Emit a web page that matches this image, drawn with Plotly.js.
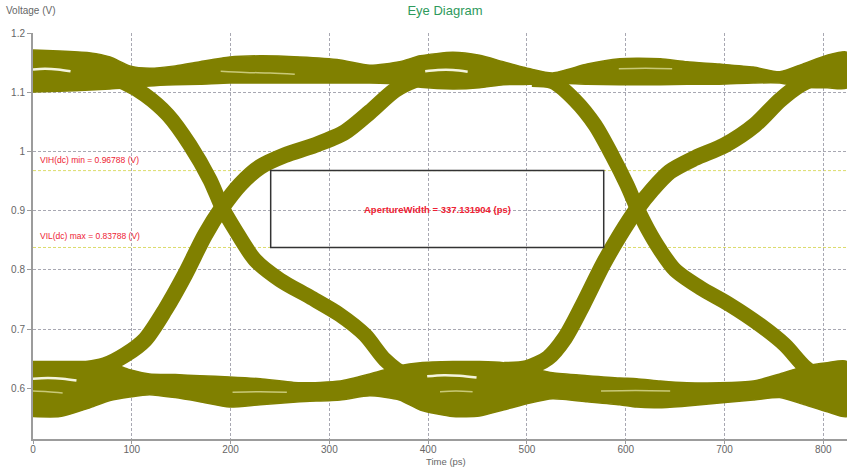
<!DOCTYPE html>
<html><head><meta charset="utf-8">
<script src="https://cdn.plot.ly/plotly-3.0.1.min.js"></script>
<style>html,body{margin:0;padding:0;background:#fff}#chart{width:847px;height:467px}</style>
</head><body><div id="chart"></div>
<script>
// ---- measurement values ----
const VIH = 0.96788;
const VIL = 0.83788;
const apertureStart = 240.6;
const apertureWidth = 337.131904;

// ---- ticks ----
const xTicks = [0, 100, 200, 300, 400, 500, 600, 700, 800];
const yTicks = [0.6, 0.7, 0.8, 0.9, 1.0, 1.1, 1.2];

// ---- rails (upper / lower envelopes of the bundles of traces) ----
const railX = [0, 27, 58, 78, 98, 118, 144, 169, 199, 230, 270, 311, 341, 371, 392, 425, 452, 476, 503, 526, 561, 594, 611, 635, 662, 695, 729, 756, 779, 804, 824];
const highRailUpper = [1.172, 1.170, 1.167, 1.160, 1.145, 1.141, 1.145, 1.152, 1.160, 1.162, 1.160, 1.155, 1.146, 1.152, 1.162, 1.168, 1.163, 1.152, 1.140, 1.133, 1.148, 1.157, 1.158, 1.157, 1.152, 1.148, 1.143, 1.135, 1.148, 1.163, 1.168];
const highRailLower = [1.101, 1.102, 1.104, 1.106, 1.108, 1.111, 1.113, 1.114, 1.116, 1.116, 1.116, 1.116, 1.116, 1.114, 1.109, 1.106, 1.108, 1.113, 1.114, 1.116, 1.114, 1.113, 1.113, 1.113, 1.114, 1.114, 1.116, 1.116, 1.109, 1.108, 1.108];
const lowRailUpper = [0.645, 0.645, 0.645, 0.643, 0.631, 0.624, 0.623, 0.621, 0.619, 0.616, 0.609, 0.612, 0.624, 0.638, 0.643, 0.645, 0.645, 0.643, 0.634, 0.626, 0.621, 0.617, 0.616, 0.612, 0.609, 0.609, 0.612, 0.624, 0.636, 0.643, 0.645];
const lowRailLower = [0.552, 0.552, 0.567, 0.579, 0.585, 0.589, 0.584, 0.577, 0.568, 0.572, 0.577, 0.580, 0.587, 0.580, 0.563, 0.552, 0.553, 0.563, 0.575, 0.582, 0.577, 0.572, 0.568, 0.567, 0.570, 0.575, 0.580, 0.584, 0.573, 0.560, 0.552];

// ---- transitions (centre of each bundle) ----
const rise1X = [47.6, 72.9, 93.1, 113.4, 133.6, 153.9, 174.1, 191.3, 209.5, 229.8, 255.1, 285.4, 315.8, 341.1, 366.4, 386.7, 401.8];
const rise1Y = [0.631, 0.639, 0.656, 0.682, 0.732, 0.792, 0.859, 0.905, 0.944, 0.974, 0.994, 1.011, 1.033, 1.067, 1.104, 1.121, 1.128];
const fall1X = [77.9, 93.1, 113.4, 136.6, 158.9, 179.2, 191.3, 204.5, 224.7, 250.0, 280.4, 310.7, 336.1, 356.3, 376.5, 391.7];
const fall1Y = [1.124, 1.116, 1.096, 1.062, 1.011, 0.952, 0.906, 0.868, 0.817, 0.783, 0.754, 0.724, 0.690, 0.648, 0.623, 0.617];
const rise2X = [477.0, 500.0, 521.3, 538.5, 556.7, 577.0, 594.2, 611.4, 626.6, 644.8, 670.1, 700.4, 730.8, 756.1, 776.4, 791.6, 811.8];
const rise2Y = [0.631, 0.634, 0.651, 0.685, 0.741, 0.809, 0.859, 0.903, 0.935, 0.966, 0.989, 1.011, 1.045, 1.087, 1.113, 1.125, 1.135];
const fall2X = [505.0, 526.3, 548.6, 568.9, 586.1, 601.2, 611.4, 622.5, 634.7, 649.8, 675.1, 705.5, 735.9, 761.2, 781.4, 801.7, 822.0];
const fall2Y = [1.122, 1.118, 1.087, 1.045, 0.994, 0.944, 0.905, 0.868, 0.834, 0.800, 0.770, 0.741, 0.707, 0.673, 0.636, 0.614, 0.608];

// ---- light gaps between individual traces ----
const gapHighAX = [0, 12, 25, 38];        const gapHighAY = [1.139, 1.140, 1.139, 1.136];
const gapHighBX = [397, 410, 425, 440];   const gapHighBY = [1.136, 1.138, 1.138, 1.135];
const gapHighCX = [190, 215, 240, 265];   const gapHighCY = [1.136, 1.134, 1.133, 1.131];
const gapHighDX = [593, 620, 647];        const gapHighDY = [1.140, 1.141, 1.140];
const gapLowAX = [0, 15, 30, 44];         const gapLowAY = [0.616, 0.617, 0.616, 0.613];
const gapLowBX = [0, 15, 30];             const gapLowBY = [0.595, 0.594, 0.592];
const gapLowCX = [399, 416, 432, 449];    const gapLowCY = [0.620, 0.622, 0.621, 0.618];
const gapLowDX = [412, 428, 445];         const gapLowDY = [0.594, 0.595, 0.594];
const gapLowEX = [202, 230, 257];         const gapLowEY = [0.593, 0.594, 0.593];
const gapLowFX = [575, 610, 645];         const gapLowFY = [0.595, 0.596, 0.595];

// ---- styles ----
const OLIVE = '#808000';
const FONT = 'Liberation Sans, Arial, sans-serif';
const RED = '#ee2233';

function band(x, upper, lower) {
  return {
    x: x.concat(x.slice().reverse()),
    y: upper.concat(lower.slice().reverse()),
    mode: 'lines', fill: 'toself', fillcolor: OLIVE,
    line: {color: OLIVE, width: 1.5, shape: 'spline', smoothing: 0.6},
    hoverinfo: 'skip', showlegend: false
  };
}
function edge(x, y, w) {
  return {x: x, y: y, mode: 'lines',
    line: {color: OLIVE, width: w, shape: 'spline', smoothing: 0.8},
    hoverinfo: 'skip', showlegend: false};
}
function gap(x, y, c, w) {
  return {x: x, y: y, mode: 'lines',
    line: {color: c, width: w, shape: 'spline'},
    hoverinfo: 'skip', showlegend: false};
}

const traces = [
  band(railX, highRailUpper, highRailLower),
  band(railX, lowRailUpper, lowRailLower),
  edge(rise1X, rise1Y, 16), edge(fall1X, fall1Y, 15),
  edge(rise2X, rise2Y, 16), edge(fall2X, fall2Y, 15),
  gap(gapHighAX, gapHighAY, '#f4f4de', 2.5),
  gap(gapHighBX, gapHighBY, '#f4f4de', 2.5),
  gap(gapHighCX, gapHighCY, '#c9c978', 1.5),
  gap(gapHighDX, gapHighDY, '#c9c978', 1.5),
  gap(gapLowAX, gapLowAY, '#f4f4de', 2.5),
  gap(gapLowBX, gapLowBY, '#c9c978', 1.5),
  gap(gapLowCX, gapLowCY, '#f4f4de', 2.5),
  gap(gapLowDX, gapLowDY, '#c9c978', 1.5),
  gap(gapLowEX, gapLowEY, '#c9c978', 1.5),
  gap(gapLowFX, gapLowFY, '#c9c978', 1.5)
];

const axisCommon = {
  showgrid: true, gridcolor: '#a8a8b2', gridwidth: 1, griddash: '3px,2px',
  showline: true, linecolor: '#9c9c9c', linewidth: 2,
  ticks: 'outside', ticklen: 4, tickcolor: '#9c9c9c', tickwidth: 1,
  tickfont: {family: FONT, size: 10, color: '#666666'},
  zeroline: false, fixedrange: true
};

const layout = {
  width: 847, height: 467,
  margin: {l: 33, r: 0, t: 33, b: 28, pad: 0},
  paper_bgcolor: '#ffffff', plot_bgcolor: '#ffffff',
  showlegend: false,
  title: {text: 'Eye Diagram', font: {family: FONT, size: 13, color: '#2e9a5c'},
          x: 445 / 847, xref: 'container', xanchor: 'center',
          y: 1 - 10 / 467, yref: 'container', yanchor: 'middle'},
  xaxis: Object.assign({}, axisCommon, {range: [0, 824], tickvals: xTicks, ticktext: xTicks.map(String),
          ticklen: 3, ticklabelstandoff: -3}),
  yaxis: Object.assign({}, axisCommon, {range: [0.514, 1.2006], tickvals: yTicks, ticktext: yTicks.map(v => String(v))}),
  shapes: [
    {type: 'line', xref: 'paper', x0: 0, x1: 1, yref: 'y', y0: VIH, y1: VIH,
     line: {color: '#dcdc6a', width: 1, dash: '3px,2px'}, layer: 'below'},
    {type: 'line', xref: 'paper', x0: 0, x1: 1, yref: 'y', y0: VIL, y1: VIL,
     line: {color: '#dcdc6a', width: 1, dash: '3px,2px'}, layer: 'below'},
    {type: 'rect', xref: 'x', yref: 'y', x0: apertureStart, x1: apertureStart + apertureWidth,
     y0: VIL, y1: VIH, line: {color: '#333333', width: 1.5}, layer: 'above'}
  ],
  annotations: [
    {text: 'Voltage (V)', xref: 'paper', yref: 'paper', x: -29 / 814, y: (439 - 11) / 406,
     xanchor: 'left', yanchor: 'middle', showarrow: false,
     font: {family: FONT, size: 10, color: '#666666'}},
    {text: 'Time (ps)', xref: 'paper', yref: 'paper', x: (446 - 33) / 814, y: (439 - 461.5) / 406,
     xanchor: 'center', yanchor: 'middle', showarrow: false,
     font: {family: FONT, size: 9.5, color: '#666666'}},
    {text: 'VIH(dc) min = ' + VIH + ' (V)', xref: 'x', yref: 'y', x: 5, y: VIH, yshift: 11,
     xanchor: 'left', yanchor: 'middle', showarrow: false,
     font: {family: FONT, size: 8.5, color: RED}},
    {text: 'VIL(dc) max = ' + VIL + ' (V)', xref: 'x', yref: 'y', x: 5, y: VIL, yshift: 11,
     xanchor: 'left', yanchor: 'middle', showarrow: false,
     font: {family: FONT, size: 8.5, color: RED}},
    {text: '<b>ApertureWidth = ' + apertureWidth + ' (ps)</b>', xref: 'x', yref: 'y',
     x: apertureStart + apertureWidth / 2, y: (VIH + VIL) / 2,
     xanchor: 'center', yanchor: 'middle', showarrow: false,
     font: {family: FONT, size: 9.5, color: RED}}
  ]
};

Plotly.newPlot('chart', traces, layout, {displayModeBar: false, staticPlot: true});
</script>
</body></html>
